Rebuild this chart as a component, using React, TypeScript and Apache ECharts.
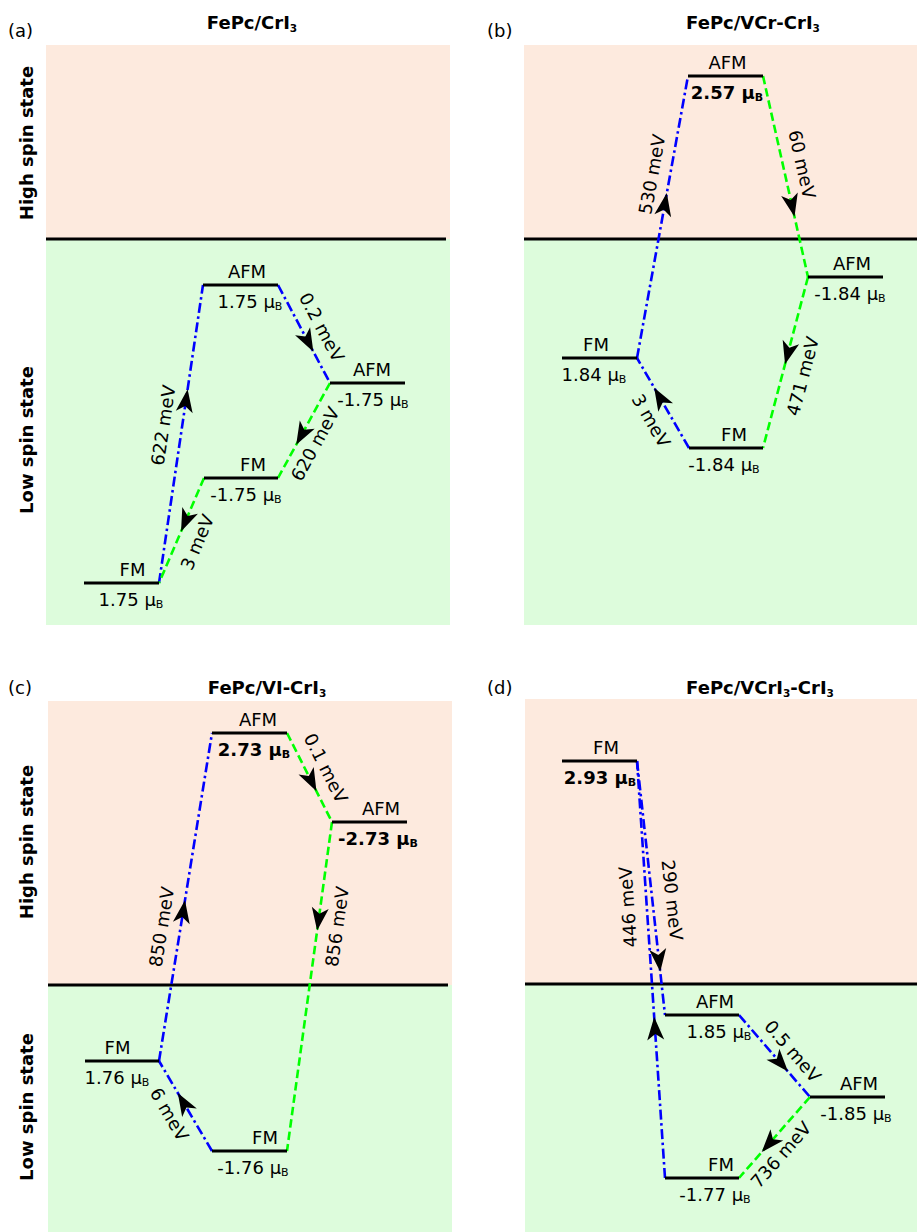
import React, { useEffect, useRef } from "react";
import * as echarts from "echarts";

// ---------- data (schematic energy-level units, y grows upward) ----------
// Panel (a) FePc/CrI3
const levelsA = [
  { state: "AFM", moment: "1.75", bold: false, x0: 157, x1: 232, y: 340, stateX: 201, momentX: 204 },
  { state: "AFM", moment: "-1.75", bold: false, x0: 284, x1: 359, y: 242, stateX: 326, momentX: 327 },
  { state: "FM", moment: "-1.75", bold: false, x0: 158, x1: 232, y: 147, stateX: 207, momentX: 200 },
  { state: "FM", moment: "1.75", bold: false, x0: 38, x1: 113, y: 42, stateX: 86.5, momentX: 85 },
];
const transA = [
  { from: [3, 1], to: [0, 0], kind: "blue", label: "622 meV", arrowAt: 0.65, labelAt: 0.52, off: 19 },
  { from: [0, 1], to: [1, 0], kind: "blue", label: "0.2 meV", arrowAt: 0.68, labelAt: 0.52, off: 19 },
  { from: [1, 0], to: [2, 1], kind: "green", label: "620 meV", arrowAt: 0.65, labelAt: 0.56, off: -16 },
  { from: [2, 0], to: [3, 1], kind: "green", label: "3 meV", arrowAt: 0.51, labelAt: 0.54, off: -19 },
];

// Panel (b) FePc/VCr-CrI3
const levelsB = [
  { state: "AFM", moment: "2.57", bold: true, x0: 164, x1: 239, y: 549, stateX: 203.5, momentX: 203 },
  { state: "AFM", moment: "-1.84", bold: false, x0: 284, x1: 359, y: 348, stateX: 328, momentX: 326 },
  { state: "FM", moment: "1.84", bold: false, x0: 38, x1: 113, y: 267, stateX: 72, momentX: 70 },
  { state: "FM", moment: "-1.84", bold: false, x0: 165, x1: 239, y: 177, stateX: 210, momentX: 200 },
];
const transB = [
  { from: [2, 1], to: [0, 0], kind: "blue", label: "530 meV", arrowAt: 0.585, labelAt: 0.64, off: 18 },
  { from: [0, 1], to: [1, 0], kind: "green", label: "60 meV", arrowAt: 0.7, labelAt: 0.46, off: 19 },
  { from: [1, 0], to: [3, 1], kind: "green", label: "471 meV", arrowAt: 0.51, labelAt: 0.55, off: -20 },
  { from: [3, 0], to: [2, 1], kind: "blue", label: "3 meV", arrowAt: 0.67, labelAt: 0.41, off: -19 },
];

// Panel (c) FePc/VI-CrI3
const levelsC = [
  { state: "AFM", moment: "2.73", bold: true, x0: 164, x1: 239, y: 499, stateX: 210, momentX: 206 },
  { state: "AFM", moment: "-2.73", bold: true, x0: 284, x1: 359, y: 410, stateX: 333, momentX: 330 },
  { state: "FM", moment: "1.76", bold: false, x0: 37, x1: 111, y: 171, stateX: 69.5, momentX: 69 },
  { state: "FM", moment: "-1.76", bold: false, x0: 164, x1: 239, y: 81, stateX: 217, momentX: 205 },
];
const transC = [
  { from: [2, 1], to: [0, 0], kind: "blue", label: "850 meV", arrowAt: 0.49, labelAt: 0.4, off: 19 },
  { from: [0, 1], to: [1, 0], kind: "green", label: "0.1 meV", arrowAt: 0.655, labelAt: 0.49, off: 19 },
  { from: [1, 0], to: [3, 1], kind: "green", label: "856 meV", arrowAt: 0.33, labelAt: 0.31, off: -19 },
  { from: [3, 0], to: [2, 1], kind: "blue", label: "6 meV", arrowAt: 0.645, labelAt: 0.51, off: -18 },
];

// Panel (d) FePc/VCrI3-CrI3
const levelsD = [
  { state: "FM", moment: "2.93", bold: true, x0: 37, x1: 112, y: 471, stateX: 81, momentX: 75 },
  { state: "AFM", moment: "1.85", bold: false, x0: 140, x1: 214, y: 217, stateX: 190, momentX: 194 },
  { state: "AFM", moment: "-1.85", bold: false, x0: 285, x1: 360, y: 135, stateX: 334, momentX: 331 },
  { state: "FM", moment: "-1.77", bold: false, x0: 140, x1: 214, y: 54, stateX: 196, momentX: 190 },
];
const transD = [
  { from: [0, 1], to: [1, 0], kind: "blue", label: "290 meV", arrowAt: 0.83, labelAt: 0.556, off: 20 },
  { from: [3, 0], to: [0, 1], kind: "blue", label: "446 meV", arrowAt: 0.386, labelAt: 0.653, off: 19, flip: true },
  { from: [1, 1], to: [2, 0], kind: "blue", label: "0.5 meV", arrowAt: 0.69, labelAt: 0.576, off: 17 },
  { from: [2, 0], to: [3, 1], kind: "green", label: "736 meV", arrowAt: 0.68, labelAt: 0.58, off: -16 },
];

const titles = [
  "{t|FePc/CrI}{s|3}",
  "{t|FePc/VCr-CrI}{s|3}",
  "{t|FePc/VI-CrI}{s|3}",
  "{t|FePc/VCrI}{s|3}{t|-CrI}{s|3}",
];
const letters = ["(a)", "(b)", "(c)", "(d)"];
const stateNames = ["High spin state", "Low spin state"];

// ---------- layout ----------
const panels = [
  { levels: levelsA, trans: transA, grid: { left: 46, top: 45, width: 404, height: 580 }, split: 386, sepEnd: 400, titleX: 252, titleY: 22, letterX: 8, letterY: 30, side: { highY: 143, lowY: 440 } },
  { levels: levelsB, trans: transB, grid: { left: 524, top: 45, width: 393, height: 580 }, split: 386, sepEnd: 393, titleX: 753, titleY: 22, letterX: 487, letterY: 30, side: null },
  { levels: levelsC, trans: transC, grid: { left: 48, top: 701, width: 404, height: 531 }, split: 247, sepEnd: 400, titleX: 267, titleY: 687, letterX: 8, letterY: 687, side: { highY: 842, lowY: 1107 } },
  { levels: levelsD, trans: transD, grid: { left: 525, top: 699, width: 392, height: 533 }, split: 248, sepEnd: 392, titleX: 760, titleY: 687, letterX: 487, letterY: 687, side: null },
];

const FONT = '"DejaVu Sans", "Noto Sans", sans-serif';
const HIGH_BG = "#fdeade";
const LOW_BG = "#ddfcdc";
const COLORS: Record<string, string> = { blue: "#0000ff", green: "#00ff00" };
const DASH: Record<string, number[]> = { blue: [10, 3.5, 2.5, 3.5], green: [8.5, 4] };

function momentRich(bold: boolean) {
  const w = bold ? "bold" : "normal";
  return {
    v: { fontSize: 18, fontFamily: FONT, fontWeight: w, lineHeight: 22, fill: "#000" },
    s: { fontSize: 11, fontFamily: FONT, fontWeight: w, lineHeight: 8, verticalAlign: "bottom", fill: "#000" },
  };
}

function buildOption() {
  const grids: any[] = [];
  const xAxes: any[] = [];
  const yAxes: any[] = [];
  const series: any[] = [];
  const graphic: any[] = [];

  panels.forEach((p, gi) => {
    const W = p.grid.width;
    const H = p.grid.height;
    grids.push({ ...p.grid, containLabel: false, show: false });
    xAxes.push({ type: "value", gridIndex: gi, min: 0, max: W, show: false });
    yAxes.push({ type: "value", gridIndex: gi, min: 0, max: H, show: false });

    // background bands + separator
    series.push({
      type: "custom",
      xAxisIndex: gi,
      yAxisIndex: gi,
      z: 1,
      silent: true,
      clip: false,
      data: [[0, W, p.split, H, p.sepEnd]],
      renderItem: (params: any, api: any) => {
        const x0 = api.value(0), x1 = api.value(1), sp = api.value(2), top = api.value(3), se = api.value(4);
        const tl = api.coord([x0, top]);
        const mr = api.coord([x1, sp]);
        const bl = api.coord([x0, 0]);
        const sepR = api.coord([se, sp]);
        return {
          type: "group",
          children: [
            { type: "rect", shape: { x: tl[0], y: tl[1], width: mr[0] - tl[0], height: mr[1] - tl[1] }, style: { fill: HIGH_BG } },
            { type: "rect", shape: { x: bl[0], y: mr[1], width: mr[0] - bl[0], height: bl[1] - mr[1] }, style: { fill: LOW_BG } },
            { type: "line", shape: { x1: tl[0], y1: mr[1], x2: sepR[0], y2: mr[1] }, style: { stroke: "#000", lineWidth: 2.8 } },
          ],
        };
      },
    });

    // transitions
    series.push({
      type: "custom",
      xAxisIndex: gi,
      yAxisIndex: gi,
      z: 2,
      silent: true,
      clip: false,
      data: p.trans.map((t) => {
        const a = p.levels[t.from[0]];
        const b = p.levels[t.to[0]];
        return [t.from[1] ? a.x1 : a.x0, a.y, t.to[1] ? b.x1 : b.x0, b.y];
      }),
      renderItem: (params: any, api: any) => {
        const t: any = p.trans[params.dataIndex];
        const A = api.coord([api.value(0), api.value(1)]);
        const B = api.coord([api.value(2), api.value(3)]);
        const dx = B[0] - A[0], dy = B[1] - A[1];
        const len = Math.hypot(dx, dy);
        const ux = dx / len, uy = dy / len;
        const nx = -uy, ny = ux;
        const tip = [A[0] + dx * t.arrowAt, A[1] + dy * t.arrowAt];
        const L = 23, Wd = 17, N = 17;
        const pts = [
          tip,
          [tip[0] - L * ux + (Wd / 2) * nx, tip[1] - L * uy + (Wd / 2) * ny],
          [tip[0] - N * ux, tip[1] - N * uy],
          [tip[0] - L * ux - (Wd / 2) * nx, tip[1] - L * uy - (Wd / 2) * ny],
        ];
        let ang = Math.atan2(-dy, dx);
        if (ang > Math.PI / 2) ang -= Math.PI;
        else if (ang <= -Math.PI / 2) ang += Math.PI;
        if (t.flip) ang += Math.PI;
        const upx = -Math.sin(ang), upy = -Math.cos(ang);
        const cx = A[0] + dx * t.labelAt + t.off * upx;
        const cy = A[1] + dy * t.labelAt + t.off * upy;
        return {
          type: "group",
          children: [
            { type: "line", shape: { x1: A[0], y1: A[1], x2: B[0], y2: B[1] }, style: { stroke: COLORS[t.kind], lineWidth: 2.6, lineDash: DASH[t.kind] } },
            { type: "polygon", shape: { points: pts }, style: { fill: "#000" } },
            {
              type: "text",
              x: cx,
              y: cy,
              rotation: ang,
              style: { text: t.label, fill: "#000", fontSize: 18, fontFamily: FONT, align: "center", verticalAlign: "middle" },
            },
          ],
        };
      },
    });

    // levels
    series.push({
      type: "custom",
      xAxisIndex: gi,
      yAxisIndex: gi,
      z: 3,
      silent: true,
      clip: false,
      data: p.levels.map((l) => [l.x0, l.x1, l.y, l.stateX, l.momentX]),
      renderItem: (params: any, api: any) => {
        const l = p.levels[params.dataIndex];
        const a = api.coord([api.value(0), api.value(2)]);
        const b = api.coord([api.value(1), api.value(2)]);
        const s = api.coord([api.value(3), api.value(2)]);
        const m = api.coord([api.value(4), api.value(2)]);
        return {
          type: "group",
          children: [
            { type: "line", shape: { x1: a[0], y1: a[1], x2: b[0], y2: b[1] }, style: { stroke: "#000", lineWidth: 2.8 } },
            {
              type: "text",
              x: s[0],
              y: s[1] - 14,
              style: { text: l.state, fill: "#000", fontSize: 18, fontFamily: FONT, align: "center", verticalAlign: "middle" },
            },
            {
              type: "text",
              x: m[0],
              y: m[1] + 16,
              style: { text: `{v|${l.moment} μ}{s|B}`, rich: momentRich(l.bold), align: "center", verticalAlign: "middle" },
            },
          ],
        };
      },
    });

    // title, letter, side labels
    graphic.push({
      type: "text",
      x: p.titleX,
      y: p.titleY,
      style: {
        text: titles[gi],
        align: "center",
        verticalAlign: "middle",
        rich: {
          t: { fontSize: 18, fontFamily: FONT, fontWeight: "bold", lineHeight: 22, fill: "#000" },
          s: { fontSize: 10.5, fontFamily: FONT, fontWeight: "bold", lineHeight: 8, verticalAlign: "bottom", fill: "#000" },
        },
      },
    });
    graphic.push({
      type: "text",
      x: p.letterX,
      y: p.letterY,
      style: { text: letters[gi], fill: "#000", fontSize: 18, fontFamily: FONT, align: "left", verticalAlign: "middle" },
    });
    if (p.side) {
      [p.side.highY, p.side.lowY].forEach((yy, k) => {
        graphic.push({
          type: "text",
          x: 26,
          y: yy,
          rotation: Math.PI / 2,
          style: { text: stateNames[k], fill: "#000", fontSize: 18, fontWeight: "bold", fontFamily: FONT, align: "center", verticalAlign: "middle" },
        });
      });
    }
  });

  return { animation: false, backgroundColor: "#fff", grid: grids, xAxis: xAxes, yAxis: yAxes, series, graphic };
}

export default function App() {
  const ref = useRef<HTMLDivElement>(null);
  useEffect(() => {
    if (!ref.current) return;
    const chart = echarts.init(ref.current, null, { renderer: "svg" });
    chart.setOption(buildOption() as any);
    return () => chart.dispose();
  }, []);
  return <div ref={ref} style={{ position: "fixed", left: 0, top: 0, width: 917, height: 1232, background: "#fff" }} />;
}
